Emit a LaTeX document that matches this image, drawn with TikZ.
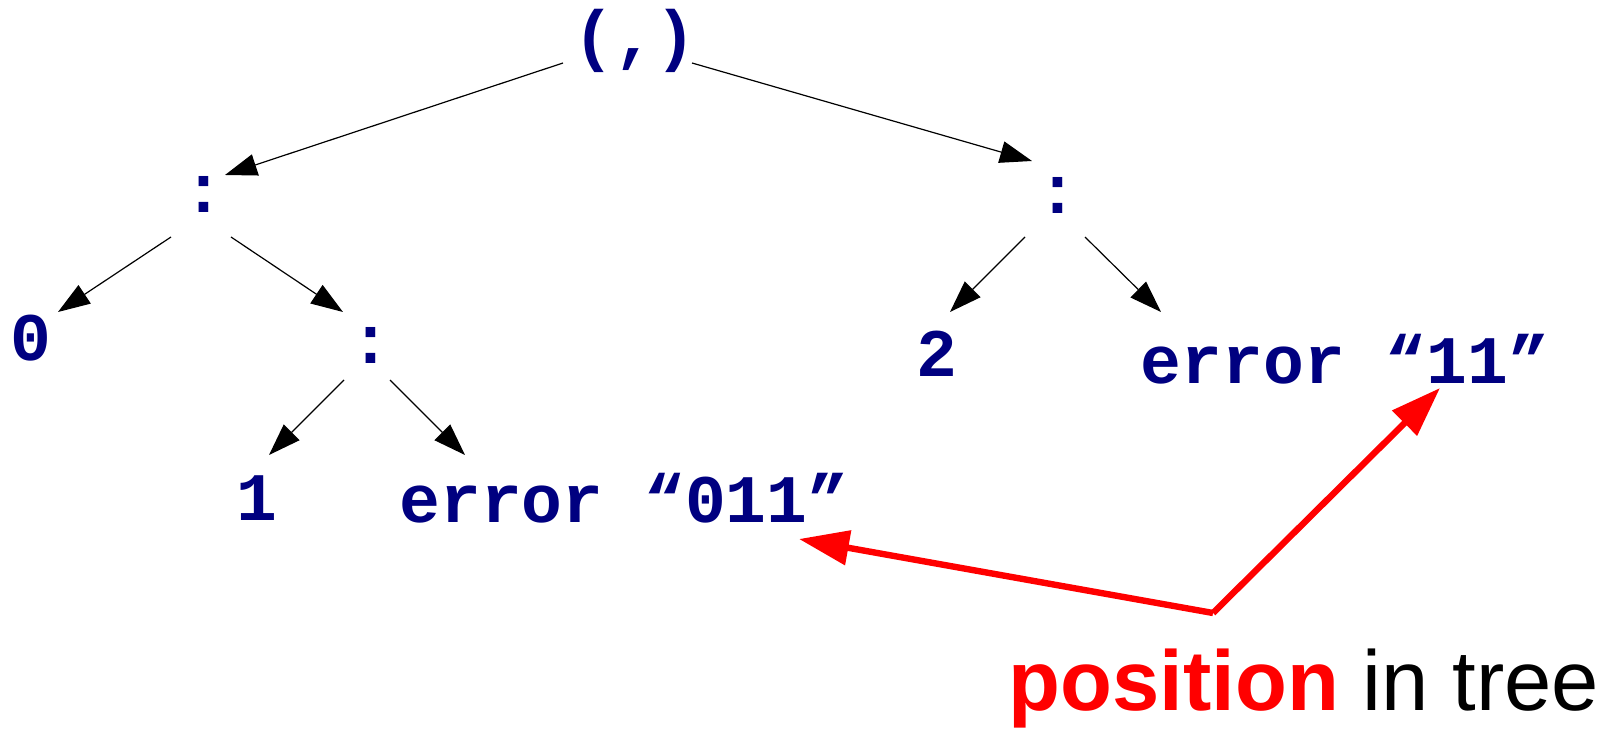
\documentclass[tikz,border=0pt]{standalone}
\usepackage{fontspec}
\setmainfont{Liberation Sans}
\newfontfamily\codefont{Liberation Mono}
\usetikzlibrary{arrows.meta,calc}
\definecolor{navy}{RGB}{0,0,128}
\definecolor{pred}{RGB}{255,0,0}
\begin{document}
\begin{tikzpicture}[x=0.5pt,y=-0.5pt,
  code/.style={inner sep=0pt,text=navy,font=\codefont\bfseries\fontsize{34pt}{34pt}\selectfont},
  edge/.style={draw=black,line width=0.6pt,-{Triangle[length=16pt,width=11pt]}},
  redarrow/.style={draw=pred,line width=3.2pt,-{Triangle[length=25pt,width=17pt]}}]
\useasboundingbox (0,0) rectangle (1617,731);
\node[code] (root) at (635,41) {(,)};
\node[code] (L) at (204,194) {:};
\node[code] (R) at (1058,195) {:};
\node[code] (zero) at (31,338) {0};
\node[code] (M) at (371,345) {:};
\node[code] (two) at (937,354) {2};
\node[code] (err11) at (1345,359) {error “11”};
\node[code] (one) at (257,498) {1};
\node[code] (err011) at (624,498) {error “011”};
\node[anchor=base,inner sep=0pt,font=\fontsize{42.5pt}{42.5pt}\selectfont] (lbl) at (1304,711) {\textcolor{pred}{\bfseries position} in tree};
\coordinate (pj) at (1213,613);
\draw[edge] ($(root)+(-72,22)$) -- ($(L)+(21,-19)$);
\draw[edge] ($(root)+(57,22)$) -- ($(R)+(-26,-34)$);
\draw[edge] ($(L)+(-33,43)$) -- ($(zero)+(27,-26)$);
\draw[edge] ($(L)+(27,43)$) -- ($(M)+(-28,-33)$);
\draw[edge] ($(M)+(-27,35)$) -- ($(one)+(12,-43)$);
\draw[edge] ($(M)+(19,35)$) -- ($(err011)+(-159,-43)$);
\draw[edge] ($(R)+(-33,42)$) -- ($(two)+(13,-42)$);
\draw[edge] ($(R)+(27,42)$) -- ($(err11)+(-184,-47)$);
\draw[redarrow] (pj) -- ($(err011)+(175,41)$);
\draw[redarrow] (pj) -- ($(err11)+(95,29)$);
\end{tikzpicture}
\end{document}
